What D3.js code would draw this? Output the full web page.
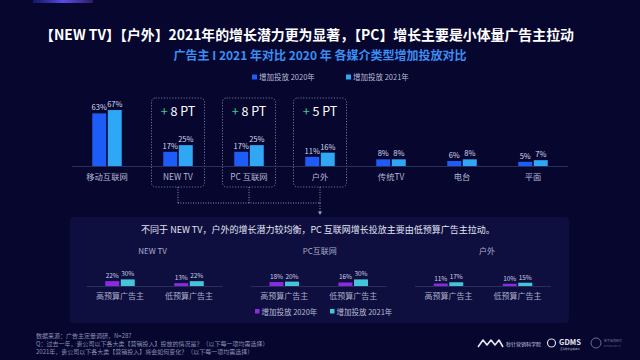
<!DOCTYPE html>
<html><head><meta charset="utf-8">
<script src="https://cdn.jsdelivr.net/npm/d3@7"></script>
<style>
html,body{margin:0;padding:0;background:#06062f;}
svg{display:block;font-family:"Noto Sans CJK SC","Noto Sans",sans-serif;}
</style></head>
<body><svg id="c" width="640" height="360"></svg>
<script>
// ---- data ----
const titleText = "【NEW TV】【户外】2021年的增长潜力更为显著，【PC】增长主要是小体量广告主拉动";
const subtitleText = "广告主 I 2021 年对比 2020 年 各媒介类型增加投放对比";
const series = ["增加投放 2020年", "增加投放 2021年"];
const categories = ["移动互联网", "NEW TV", "PC 互联网", "户外", "传统TV", "电台", "平面"];
const values2020 = [63, 17, 17, 11, 8, 6, 5];
const values2021 = [67, 25, 25, 16, 8, 8, 7];
const highlighted = ["NEW TV", "PC 互联网", "户外"];
const deltas = [8, 8, 5];
const noteText = "不同于 NEW TV，户外的增长潜力较均衡，PC 互联网增长投放主要由低预算广告主拉动。";
const subTitles = ["NEW TV", "PC互联网", "户外"];
const subCategories = ["高预算广告主", "低预算广告主"];
const sub2020 = [[22, 13], [18, 16], [11, 10]];
const sub2021 = [[30, 22], [20, 30], [17, 15]];
const footnotes = [
  "数据来源：广告主定量调研，N=287",
  "Q：过去一年，贵公司以下各大类【营销投入】投放的情况是？（以下每一项均需选择）",
  "2021年，贵公司以下各大类【营销投入】将会如何变化？（以下每一项均需选择）"
];

const svg = d3.select("#c");
const C20 = "#1d5cf6", C21 = "#2fa7f5";
const S20 = "#8a2be2", S21 = "#44c6d8";

// background
svg.append("rect").attr("width", 640).attr("height", 360).attr("fill", "#06062f");
const defs = svg.append("defs");
const g1 = defs.append("linearGradient").attr("id", "topg");
g1.append("stop").attr("offset", "0").attr("stop-color", "#3b3bd8").attr("stop-opacity", 0.3);
g1.append("stop").attr("offset", "0.5").attr("stop-color", "#5a4be6");
g1.append("stop").attr("offset", "1").attr("stop-color", "#7a4fe0").attr("stop-opacity", 0.3);
svg.append("rect").attr("x", 33).attr("y", 0).attr("width", 60).attr("height", 3).attr("fill", "url(#topg)");

// titles
svg.append("text").attr("x", 307).attr("y", 40).attr("text-anchor", "middle")
  .attr("font-size", 13.9).attr("font-weight", "bold").attr("fill", "#ffffff").text(titleText);
svg.append("text").attr("x", 320).attr("y", 59.5).attr("text-anchor", "middle")
  .attr("font-size", 12).attr("font-weight", "bold").attr("fill", "#3c8ef2").text(subtitleText);

// legend top
const legTop = svg.append("g");
[[252, C20], [346, C21]].forEach((d, i) => {
  legTop.append("rect").attr("x", d[0]).attr("y", 74.5).attr("width", 5).attr("height", 5).attr("fill", d[1]);
  legTop.append("text").attr("x", d[0] + 7).attr("y", 80).attr("font-size", 7.5).attr("fill", "#b8bcd6").text(series[i]);
});

// ---- top chart ----
const baseY = 166;
const x = d3.scaleBand().domain(categories).range([71.5, 568.5]);
const y = d3.scaleLinear().domain([0, 100]).range([baseY, baseY - 83.5]);

// highlight boxes
highlighted.forEach((c, i) => {
  const cx = x(c) + x.bandwidth() / 2;
  svg.append("rect").attr("x", cx - 26.5).attr("y", 98).attr("width", 53).attr("height", 89)
    .attr("rx", 4).attr("fill", "none").attr("stroke", "#8a8fb8").attr("stroke-width", 0.8)
    .attr("stroke-dasharray", "1.2,1.6");
  const t = svg.append("text").attr("x", cx).attr("y", 116).attr("text-anchor", "middle")
    .attr("font-size", 12.5).attr("fill", "#ffffff");
  t.append("tspan").attr("fill", "#3ccf8e").text("+ ");
  t.append("tspan").text(deltas[i] + " PT");
});

// connector lines
const cxs = highlighted.map(c => x(c) + x.bandwidth() / 2);
const conn = svg.append("g").attr("stroke", "#9aa0c8").attr("stroke-width", 0.9)
  .attr("stroke-dasharray", "1,1.5").attr("fill", "none");
cxs.forEach(cx => conn.append("line").attr("x1", cx).attr("x2", cx).attr("y1", 187).attr("y2", 203));
conn.append("line").attr("x1", cxs[0]).attr("x2", cxs[2]).attr("y1", 203).attr("y2", 203);
conn.append("line").attr("x1", cxs[2]).attr("x2", cxs[2]).attr("y1", 203).attr("y2", 212);
svg.append("path").attr("d", d3.line()([[cxs[2] - 2, 211.5], [cxs[2] + 2, 211.5], [cxs[2], 215]]))
  .attr("fill", "#9aa0c8");

// baseline
svg.append("line").attr("x1", 72).attr("x2", 568).attr("y1", baseY + 0.5).attr("y2", baseY + 0.5)
  .attr("stroke", "#343a6c").attr("stroke-width", 0.8);

const topG = svg.append("g");
categories.forEach((c, i) => {
  const cx = x(c) + x.bandwidth() / 2;
  const xi = d3.scaleBand().domain(series).range([cx - 14.75, cx + 14.75]).paddingInner(0.1);
  [[values2020[i], C20, series[0]], [values2021[i], C21, series[1]]].forEach(d => {
    topG.append("rect").attr("x", xi(d[2])).attr("y", y(d[0])).attr("width", xi.bandwidth())
      .attr("height", baseY - y(d[0])).attr("fill", d[1]);
    topG.append("text").attr("x", xi(d[2]) + xi.bandwidth() / 2).attr("y", y(d[0]) - 3)
      .attr("text-anchor", "middle").attr("font-size", 7.5).attr("fill", "#d8dbee").text(d[0] + "%");
  });
  topG.append("text").attr("x", cx).attr("y", 180).attr("text-anchor", "middle")
    .attr("font-size", 8.3).attr("fill", "#b4b8d4").text(c);
});

// ---- lower panel ----
svg.append("rect").attr("x", 70).attr("y", 217).attr("width", 499).attr("height", 106).attr("rx", 4)
  .attr("fill", "#0f0f3f");
svg.append("text").attr("x", 318).attr("y", 233).attr("text-anchor", "middle")
  .attr("font-size", 9).attr("fill", "#e2e4f4").text(noteText);

const subBase = 286;
const ys = d3.scaleLinear().domain([0, 100]).range([subBase, subBase - 22]);
const subCenters = d3.scalePoint().domain(subTitles).range([154.5, 483]);
subTitles.forEach((st, k) => {
  const cc = subCenters(st);
  const g = svg.append("g");
  g.append("text").attr("x", cc - 2 + k * 3).attr("y", 254).attr("text-anchor", "middle")
    .attr("font-size", 8).attr("fill", "#a8acc8").text(st);
  g.append("line").attr("x1", cc - 68).attr("x2", cc + 68).attr("y1", subBase + 0.5).attr("y2", subBase + 0.5)
    .attr("stroke", "#30366a").attr("stroke-width", 0.8);
  const xs = d3.scaleBand().domain(subCategories).range([cc - 69, cc + 69]);
  subCategories.forEach((sc, j) => {
    const c2 = xs(sc) + xs.bandwidth() / 2;
    const xi = d3.scaleBand().domain(series).range([c2 - 14.75, c2 + 14.75]).paddingInner(0.1);
    [[sub2020[k][j], S20, series[0]], [sub2021[k][j], S21, series[1]]].forEach(d => {
      g.append("rect").attr("x", xi(d[2])).attr("y", ys(d[0])).attr("width", xi.bandwidth())
        .attr("height", subBase - ys(d[0])).attr("fill", d[1]);
      g.append("text").attr("x", xi(d[2]) + xi.bandwidth() / 2).attr("y", ys(d[0]) - 3)
        .attr("text-anchor", "middle").attr("font-size", 6.5).attr("fill", "#c8cbe4").text(d[0] + "%");
    });
    g.append("text").attr("x", c2).attr("y", 299).attr("text-anchor", "middle")
      .attr("font-size", 8).attr("fill", "#a8acc8").text(sc);
  });
});

// bottom legend
[[255, S20], [330, S21]].forEach((d, i) => {
  svg.append("rect").attr("x", d[0]).attr("y", 309).attr("width", 4.5).attr("height", 4.5).attr("fill", d[1]);
  svg.append("text").attr("x", d[0] + 6.5).attr("y", 314.5).attr("font-size", 7.5).attr("fill", "#b8bcd6").text(series[i]);
});

// footnotes
footnotes.forEach((f, i) => {
  svg.append("text").attr("x", 36).attr("y", 338 + i * 7.8).attr("font-size", 6)
    .attr("fill", "#8a8fb2").text(f);
});

// logos
const lg = svg.append("g");
lg.append("path").attr("d", "M478,347 L483,340 L487,345 L491,340 L495,345 L499,340 L503,347")
  .attr("fill", "none").attr("stroke", "#e8e8f4").attr("stroke-width", 1.6).attr("stroke-linejoin", "round");
lg.append("text").attr("x", 506).attr("y", 345.5).attr("font-size", 5).attr("fill", "#c8cae0").text("秒针营销科学院");
lg.append("circle").attr("cx", 551.5).attr("cy", 343).attr("r", 4).attr("fill", "none").attr("stroke", "#d8dae8").attr("stroke-width", 1.2);
lg.append("text").attr("x", 559).attr("y", 345).attr("font-size", 7.5).attr("font-weight", "bold").attr("fill", "#e8e8f4").text("GDMS");
lg.append("text").attr("x", 560).attr("y", 350).attr("font-size", 2.5).attr("fill", "#aab").text("全球数字营销峰会");
lg.append("circle").attr("cx", 596).attr("cy", 343).attr("r", 5).attr("fill", "none").attr("stroke", "#6a6e8e").attr("stroke-width", 1);
lg.append("text").attr("x", 604).attr("y", 342).attr("font-size", 3).attr("fill", "#6a6e8e").text("数字营销研究");
lg.append("text").attr("x", 604).attr("y", 346.5).attr("font-size", 2.5).attr("fill", "#6a6e8e").text("R E S E A R C H");
</script></body></html>
